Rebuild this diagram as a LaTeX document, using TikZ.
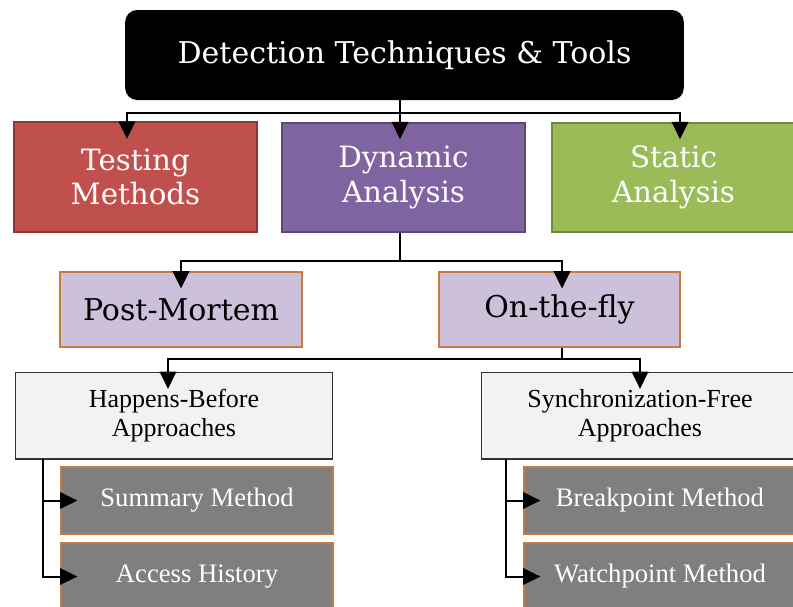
\documentclass[tikz,border=0pt]{standalone}
\usepackage{fontspec}
\setmainfont{Liberation Serif}
\newfontfamily\headfont{DejaVu Serif}
\usetikzlibrary{arrows.meta}

\definecolor{testred}{HTML}{C0504D}
\definecolor{testredline}{HTML}{8C3836}
\definecolor{dynpurple}{HTML}{8064A2}
\definecolor{dynpurpleline}{HTML}{5C4776}
\definecolor{statgreen}{HTML}{9BBB59}
\definecolor{statgreenline}{HTML}{71893F}
\definecolor{lavender}{HTML}{CCC0DA}
\definecolor{rustline}{HTML}{C87A3C}
\definecolor{leafgray}{HTML}{7F7F7F}
\definecolor{paleback}{HTML}{F2F2F2}

\tikzset{
  titlebox/.style={fill=black, rounded corners=9pt, text=white,
    minimum width=419pt, minimum height=67.5pt,
    font=\headfont\fontsize{22.5}{26}\selectfont},
  kindbox/.style={line width=1.5pt, text=white, align=center,
    minimum width=182pt, minimum height=82pt,
    font=\headfont\fontsize{22}{26}\selectfont},
  modebox/.style={draw=rustline, fill=lavender, line width=1.5pt,
    minimum width=181pt, minimum height=56pt,
    font=\headfont\fontsize{22.5}{26}\selectfont},
  approachbox/.style={draw=black!80, fill=paleback, line width=1pt,
    align=center, minimum width=238pt, minimum height=65pt,
    font=\fontsize{19.5}{22}\selectfont},
  leafbox/.style={draw=rustline, fill=leafgray, text=white, line width=1.5pt,
    minimum width=204pt, minimum height=50pt,
    font=\fontsize{20}{22}\selectfont},
  conn/.style={line width=1.5pt, -{Triangle[width=12.5pt,length=13pt]},
    shorten >=-13pt}
}

\begin{document}
\begin{tikzpicture}[x=0.75pt,y=-0.75pt]
    \useasboundingbox (0,0) rectangle (793,607);

    % Draw the title
    \node[titlebox] (title) at (404.5,55) {Detection Techniques \& Tools};

    % Draw the three kinds of techniques
    \node[kindbox, fill=testred, draw=testredline] (testing) at (135.5,177) {Testing\\Methods};
    \node[kindbox, fill=dynpurple, draw=dynpurpleline] (dynamic) at (403.5,177.5) {Dynamic\\Analysis};
    \node[kindbox, fill=statgreen, draw=statgreenline] (static) at (673.5,177.5) {Static\\Analysis};

    % Draw the two modes of dynamic analysis
    \node[modebox] (postmortem) at (181,309.5) {Post-Mortem};
    \node[modebox] (onthefly) at (559.5,309.5) {On-the-fly};

    % Draw the approaches
    \node[approachbox] (happens) at (174,415.5) {Happens-Before\\Approaches};
    \node[approachbox] (syncfree) at (640,415.5) {Synchronization-Free\\Approaches};

    % Draw the methods
    \node[leafbox] (summary) at (197,500.5) {Summary Method};
    \node[leafbox] (access) at (197,576.5) {Access History};
    \node[leafbox] (breakpoint) at (660,500.5) {Breakpoint Method};
    \node[leafbox] (watchpoint) at (660,576.5) {Watchpoint Method};

    % Connect the title to the kinds
    \draw[conn] ([xshift=-3.4pt]title.south) -- ++(0,13) -| ([xshift=-6.4pt]testing.north);
    \draw[conn] ([xshift=-3.4pt]title.south) -- ++(0,13) -| ([xshift=-2.6pt]dynamic.north);
    \draw[conn] ([xshift=-3.4pt]title.south) -- ++(0,13) -| ([xshift=4.9pt]static.north);

    % Connect dynamic analysis to its modes
    \draw[conn] ([xshift=-2.6pt]dynamic.south) -- ++(0,28) -| (postmortem.north);
    \draw[conn] ([xshift=-2.6pt]dynamic.south) -- ++(0,28) -| ([xshift=1.9pt]onthefly.north);

    % Connect on-the-fly to the approaches
    \draw[conn] ([xshift=1.9pt]onthefly.south) -- ++(0,11) -| ([xshift=-4.5pt]happens.north);
    \draw[conn] ([xshift=1.9pt]onthefly.south) -- ++(0,11) -| (syncfree.north);

    % Connect the approaches to their methods
    \coordinate (happenstrunk) at (43,459);
    \coordinate (syncfreetrunk) at (506,459);
    \draw[conn] (happenstrunk) |- (summary.west);
    \draw[conn] (happenstrunk) |- (access.west);
    \draw[conn] (syncfreetrunk) |- (breakpoint.west);
    \draw[conn] (syncfreetrunk) |- (watchpoint.west);
\end{tikzpicture}
\end{document}
